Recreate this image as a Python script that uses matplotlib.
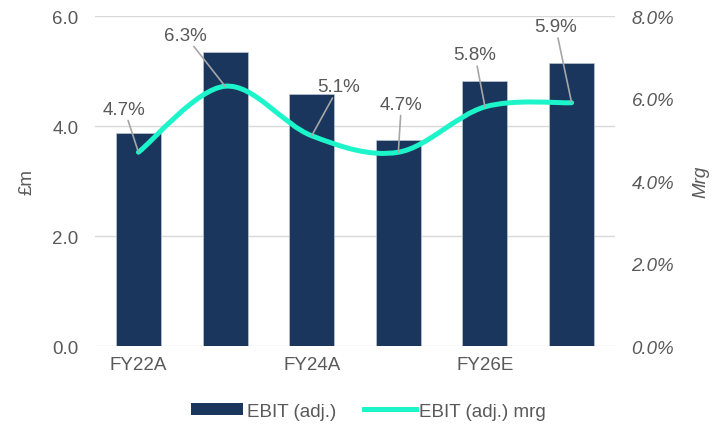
import matplotlib

matplotlib.use("Agg")

import matplotlib.pyplot as plt
import numpy as np
from matplotlib.path import Path
from matplotlib.patches import PathPatch
from matplotlib.lines import Line2D
from matplotlib.patches import Patch

plt.rcParams["font.family"] = ["Liberation Sans", "DejaVu Sans"]

years = ["FY22A", "FY23A", "FY24A", "FY25E", "FY26E", "FY27E"]
ebit = [3.87, 5.35, 4.59, 3.75, 4.82, 5.15]
margin = [4.7, 6.3, 5.1, 4.7, 5.8, 5.9]
# label offsets (pixels) from each margin point
label_offsets = [(-14, 43), (-40, 51), (27, 49), (3, 48), (-10, 52), (-16, 76)]

BAR_COLOR = "#1a365d"
LINE_COLOR = "#1cf4ca"
TEXT = "#595959"
FS = 13.5


def smooth_path(xs, ys):
    # Excel-style smooth line: cubic bezier segments, Catmull-Rom tangents
    pts = np.column_stack([xs, ys]).astype(float)
    n = len(pts)
    verts = [pts[0]]
    codes = [Path.MOVETO]
    for i in range(n - 1):
        p0 = pts[i - 1] if i > 0 else pts[i]
        p1, p2 = pts[i], pts[i + 1]
        p3 = pts[i + 2] if i + 2 < n else pts[i + 1]
        c1 = p1 + (p2 - p0) / 6.0
        c2 = p2 - (p3 - p1) / 6.0
        verts += [c1, c2, p2]
        codes += [Path.CURVE4] * 3
    return Path(verts, codes)


fig = plt.figure(figsize=(7.26, 4.27), dpi=100)
ax = fig.add_axes([0.131, 0.187, 0.716, 0.773])
x = np.arange(len(years))

ax.bar(x, ebit, width=0.52, color=BAR_COLOR, edgecolor="#c9d1dc", linewidth=0.4, zorder=2)
ax.set_xlim(-0.5, len(years) - 0.5)
ax.set_ylim(0, 6)
ax.set_yticks([0, 2, 4, 6])
ax.set_yticklabels([f"{v:.1f}" for v in [0, 2, 4, 6]])
ax.set_xticks(x)
ax.set_xticklabels([y if i % 2 == 0 else "" for i, y in enumerate(years)])
ax.grid(axis="y", color="#d9d9d9", linewidth=1, zorder=0)
ax.set_axisbelow(True)
ax.tick_params(length=0, colors=TEXT, labelsize=FS)
ax.tick_params(axis="y", pad=12)
ax.tick_params(axis="x", pad=7)
ax.set_ylabel("£m", color=TEXT, fontsize=FS, labelpad=12)
for s in ax.spines.values():
    s.set_visible(False)

ax2 = ax.twinx()
ax2.set_ylim(0, 8)
ax2.set_yticks([0, 2, 4, 6, 8])
ax2.set_yticklabels([f"{v:.1f}%" for v in [0, 2, 4, 6, 8]], fontstyle="italic")
ax2.tick_params(length=0, colors=TEXT, labelsize=FS, pad=12)
ax2.set_ylabel("Mrg", color=TEXT, fontsize=FS, fontstyle="italic", labelpad=13)
for s in ax2.spines.values():
    s.set_visible(False)

ax2.add_patch(PathPatch(smooth_path(x, margin), facecolor="none", edgecolor=LINE_COLOR,
                        linewidth=3.6, capstyle="round", zorder=3))

for xi, m, off in zip(x, margin, label_offsets):
    ax2.annotate(f"{m:.1f}%", xy=(xi, m), xytext=off, textcoords="offset pixels",
                 ha="center", va="center", fontsize=FS, color=TEXT,
                 arrowprops=dict(arrowstyle="-", color="#a6a6a6", lw=1.2,
                                 shrinkA=0, shrinkB=0), zorder=4)

handles = [Patch(facecolor=BAR_COLOR), Line2D([0], [0], color=LINE_COLOR, lw=3.6)]
fig.legend(handles, ["EBIT (adj.)", "EBIT (adj.) mrg"], loc="center",
           bbox_to_anchor=(0.508, 0.035), ncol=2, frameon=False, fontsize=FS,
           labelcolor=TEXT, handlelength=2.75, handleheight=0.55, handletextpad=0.2,
           columnspacing=1.5)

fig.savefig("out.png", dpi=100)
